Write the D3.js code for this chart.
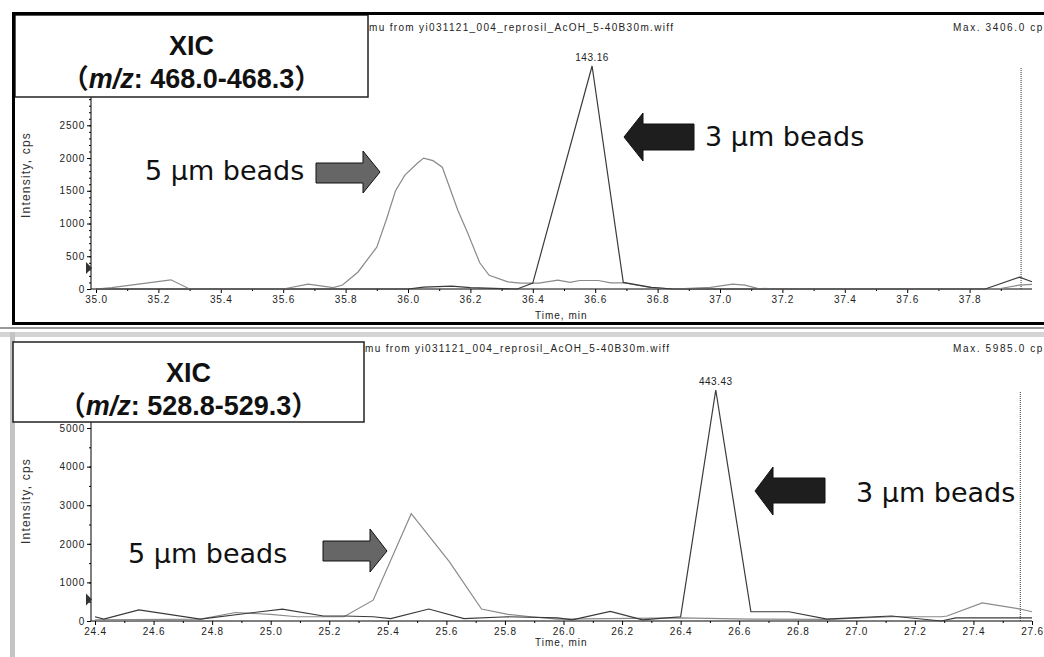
<!DOCTYPE html>
<html>
<head>
<meta charset="utf-8">
<script src="https://cdn.jsdelivr.net/npm/d3@7"></script>
<style>
  body { margin: 0; background: #fff; }
  svg { display: block; }
  .tick text { font-family: "Liberation Sans", Arial, sans-serif; font-size: 10px; fill: #222; letter-spacing: 0.8px; }
  .tick line { stroke: #000; }
</style>
</head>
<body>
<div id="chart"></div>
<script>
// ---- data ----
const topTitle = ["XIC", "468.0-468.3"];
const bottomTitle = ["XIC", "528.8-529.3"];

// top panel (m/z 468.0-468.3), time in min, intensity in cps
const topFive = [
  [35.0, 0], [35.05, 20], [35.24, 140], [35.30, 0], [35.60, 0], [35.68, 75], [35.76, 20],
  [35.79, 60], [35.84, 260], [35.90, 640], [35.93, 1050], [35.96, 1500], [35.99, 1740],
  [36.03, 1920], [36.05, 2000], [36.08, 1960], [36.11, 1860], [36.16, 1200], [36.19, 870],
  [36.23, 400], [36.26, 210], [36.32, 110], [36.36, 90], [36.42, 90], [36.48, 135],
  [36.52, 100], [36.55, 130], [36.61, 130], [36.65, 95], [36.69, 95], [36.78, 20],
  [36.85, 0], [36.97, 25], [37.04, 75], [37.08, 60], [37.12, 10], [37.20, 0],
  [37.89, 0], [37.96, 60], [38.0, 70]
];
const topThree = [
  [35.0, 0], [36.0, 0], [36.05, 30], [36.14, 45], [36.20, 20], [36.35, 0], [36.40, 90],
  [36.59, 3406], [36.69, 100], [36.78, 25], [36.85, 0], [37.85, 0], [37.96, 180], [38.0, 110]
];
const topPeak = { t: 36.59, v: 3406, label: "143.16" };
const topMax = "Max. 3406.0 cps";
const topYTicks = [0, 500, 1000, 1500, 2000, 2500];
const topXTicks = [35.0, 35.2, 35.4, 35.6, 35.8, 36.0, 36.2, 36.4, 36.6, 36.8, 37.0, 37.2, 37.4, 37.6, 37.8];

// bottom panel (m/z 528.8-529.3)
const bottomFive = [
  [24.4, 30], [24.76, 50], [24.88, 220], [25.0, 170], [25.09, 110], [25.25, 110],
  [25.35, 540], [25.48, 2780], [25.61, 1540], [25.72, 310], [25.81, 170], [25.89, 110],
  [25.98, 50], [26.40, 80], [26.64, 50], [26.90, 40], [27.12, 110], [27.29, 110],
  [27.31, 130], [27.43, 470], [27.56, 310], [27.6, 240]
];
const bottomThree = [
  [24.4, 110], [24.43, 50], [24.55, 290], [24.76, 50], [25.04, 310], [25.18, 130],
  [25.25, 130], [25.35, 110], [25.41, 60], [25.54, 310], [25.66, 60], [25.81, 110],
  [25.98, 80], [26.03, 30], [26.16, 250], [26.27, 30], [26.32, 60], [26.40, 110],
  [26.52, 5985], [26.64, 240], [26.77, 240], [26.90, 50], [26.95, 70], [27.12, 130],
  [27.29, 0], [27.34, 80], [27.6, 80]
];
const bottomPeak = { t: 26.52, v: 5985, label: "443.43" };
const bottomMax = "Max. 5985.0 cps";
const bottomYTicks = [0, 1000, 2000, 3000, 4000, 5000];
const bottomXTicks = [24.4, 24.6, 24.8, 25.0, 25.2, 25.4, 25.6, 25.8, 26.0, 26.2, 26.4, 26.6, 26.8, 27.0, 27.2, 27.4, 27.6];

const fileName = "mu from yi031121_004_reprosil_AcOH_5-40B30m.wiff";

const width = 1044, height = 657;
const svg = d3.select("#chart").append("svg")
  .attr("width", width).attr("height", height);

// window chrome between the panels
svg.append("rect").attr("x", 0).attr("y", 327).attr("width", width).attr("height", 2).attr("fill", "#999");
svg.append("rect").attr("x", 0).attr("y", 332).attr("width", width).attr("height", 5).attr("fill", "#d4d4d4");
svg.append("rect").attr("x", 10).attr("y", 332).attr("width", 5).attr("height", 325).attr("fill", "#c4c4c4");

function drawPanel(cfg) {
  const g = svg.append("g");
  const x = d3.scaleLinear().domain(cfg.xDomain).range([cfg.x0, 1032]);
  const y = d3.scaleLinear().domain([0, cfg.yMax]).range([cfg.base, cfg.top]);

  // x axis
  const xa = g.append("g").attr("transform", `translate(0,${cfg.base})`)
    .call(d3.axisBottom(x).tickValues(cfg.xTicks).tickFormat(d3.format(".1f")).tickSize(4).tickPadding(3));
  xa.select(".domain").remove();
  const minorX = cfg.xTicks.map(d => +(d + 0.1).toFixed(1)).filter(d => d < cfg.xDomain[1]);
  g.append("g").attr("transform", `translate(0,${cfg.base})`)
    .call(d3.axisBottom(x).tickValues(minorX).tickFormat("").tickSize(2))
    .select(".domain").remove();
  g.append("line").attr("x1", 91).attr("x2", 1032).attr("y1", cfg.base).attr("y2", cfg.base)
    .attr("stroke", "#000");

  // y axis
  const ya = g.append("g").attr("transform", `translate(91,0)`)
    .call(d3.axisLeft(y).tickValues(cfg.yTicks).tickFormat(d3.format("d")).tickSize(4).tickPadding(2));
  ya.select(".domain").remove();
  g.append("g").attr("transform", `translate(91,0)`)
    .call(d3.axisLeft(y).tickValues(d3.range(0, cfg.yMax, cfg.yMinor)).tickFormat("").tickSize(2))
    .select(".domain").remove();
  g.append("line").attr("x1", 91).attr("x2", 91).attr("y1", cfg.base).attr("y2", cfg.top - 30)
    .attr("stroke", "#000");

  // small marker on the y axis
  const my = y(cfg.marker);
  g.append("path").attr("d", `M86,${my - 6}L92,${my}L86,${my + 6}Z`).attr("fill", "#333");

  // dotted cursor line
  g.append("line").attr("x1", x(cfg.cursor)).attr("x2", x(cfg.cursor))
    .attr("y1", cfg.top + 2).attr("y2", cfg.base)
    .attr("stroke", "#333").attr("stroke-dasharray", "1,1");

  // traces
  const line = d3.line().x(d => x(d[0])).y(d => y(d[1]));
  g.append("path").datum(cfg.five).attr("d", line)
    .attr("fill", "none").attr("stroke", "#8a8a8a").attr("stroke-width", 1.2);
  g.append("path").datum(cfg.three).attr("d", line)
    .attr("fill", "none").attr("stroke", "#3a3a3a").attr("stroke-width", 1.2);

  // peak label
  g.append("text").attr("x", x(cfg.peak.t)).attr("y", y(cfg.peak.v) - 5)
    .attr("text-anchor", "middle")
    .style("font-family", "Liberation Sans, Arial, sans-serif").style("font-size", "10px")
    .style("letter-spacing", "0.5px").attr("fill", "#222")
    .text(cfg.peak.label);

  // axis titles
  g.append("text").attr("transform", `translate(${cfg.yTitle[0]},${cfg.yTitle[1]}) rotate(-90)`)
    .attr("text-anchor", "middle").attr("dy", "0.35em")
    .style("font-family", "Liberation Sans, Arial, sans-serif").style("font-size", "12px")
    .style("letter-spacing", "1.2px").attr("fill", "#333")
    .text("Intensity, cps");
  g.append("text").attr("x", 535).attr("y", cfg.xTitleY)
    .style("font-family", "Liberation Sans, Arial, sans-serif").style("font-size", "10px")
    .style("letter-spacing", "1px").attr("fill", "#222")
    .text("Time, min");

  // header texts
  g.append("text").attr("x", cfg.box[0] + cfg.box[2] + 1).attr("y", cfg.headY)
    .attr("textLength", 304).attr("lengthAdjust", "spacing")
    .style("font-family", "Liberation Sans, Arial, sans-serif").style("font-size", "10px")
    .attr("fill", "#222").text(fileName);
  g.append("text").attr("x", 953).attr("y", cfg.headY)
    .attr("textLength", 96).attr("lengthAdjust", "spacing")
    .style("font-family", "Liberation Sans, Arial, sans-serif").style("font-size", "10px")
    .attr("fill", "#222").text(cfg.maxText);

  // annotations
  const ann = "DejaVu Sans, Verdana, sans-serif";
  cfg.labels.forEach(l => {
    g.append("text").attr("x", l.x).attr("y", l.y)
      .style("font-family", ann).style("font-size", "27px").attr("fill", "#111")
      .text(l.text);
  });
  cfg.arrows.forEach(a => {
    const d = `M${a.x0},${a.y0}H${a.xh}V${a.h0}L${a.tip},${a.yc}L${a.xh},${a.h1}V${a.y1}H${a.x0}Z`;
    g.append("path").attr("d", d).attr("fill", a.fill).attr("stroke", "#111").attr("stroke-width", 1);
  });

  // legend box
  const [bx, by, bw, bh] = cfg.box;
  g.append("rect").attr("x", bx).attr("y", by).attr("width", bw).attr("height", bh)
    .attr("fill", "#fff").attr("stroke", "#222").attr("stroke-width", 1.5);
  const tf = "Liberation Sans, Arial, Noto Sans CJK SC, sans-serif";
  g.append("text").attr("x", bx + bw / 2).attr("y", by + 40).attr("text-anchor", "middle")
    .style("font-family", tf).style("font-size", "27px").style("font-weight", "bold").attr("fill", "#111")
    .text(cfg.title[0]);
  const t2 = g.append("text").attr("x", bx + bw / 2).attr("y", by + 73).attr("text-anchor", "middle")
    .style("font-family", tf).style("font-size", "27px").style("font-weight", "bold").attr("fill", "#111");
  t2.append("tspan").text("（");
  t2.append("tspan").style("font-style", "italic").text("m/z");
  t2.append("tspan").text(": " + cfg.title[1]);
  t2.append("tspan").text("）");
}

drawPanel({
  xDomain: [35.0, 38.0], x0: 96, base: 289, top: 66, yMax: 3406, yMinor: 100,
  xTicks: topXTicks, yTicks: topYTicks, five: topFive, three: topThree, peak: topPeak,
  marker: 320, cursor: 37.965, yTitle: [26, 175], xTitleY: 319, headY: 31,
  maxText: topMax, title: topTitle, box: [15, 15, 353, 82],
  labels: [{ x: 145, y: 180, text: "5 μm beads" }, { x: 705, y: 146, text: "3 μm beads" }],
  arrows: [
    { x0: 316, xh: 363, tip: 380, y0: 163, y1: 183, h0: 151, h1: 193, yc: 172, fill: "#666" },
    { x0: 694, xh: 643, tip: 624, y0: 124, y1: 150, h0: 113, h1: 161, yc: 137, fill: "#1e1e1e" }
  ]
});

drawPanel({
  xDomain: [24.4, 27.6], x0: 95, base: 621, top: 390, yMax: 5985, yMinor: 500,
  xTicks: bottomXTicks, yTicks: bottomYTicks, five: bottomFive, three: bottomThree, peak: bottomPeak,
  marker: 560, cursor: 27.56, yTitle: [26, 501], xTitleY: 646, headY: 352,
  maxText: bottomMax, title: bottomTitle, box: [13, 342, 351, 80],
  labels: [{ x: 128, y: 563, text: "5 μm beads" }, { x: 856, y: 502, text: "3 μm beads" }],
  arrows: [
    { x0: 323, xh: 370, tip: 387, y0: 541, y1: 561, h0: 529, h1: 572, yc: 551, fill: "#666" },
    { x0: 825, xh: 773, tip: 755, y0: 478, y1: 503, h0: 467, h1: 515, yc: 491, fill: "#1e1e1e" }
  ]
});

// top panel frame
svg.append("rect").attr("x", 13.5).attr("y", 13.5).attr("width", 1040).attr("height", 310)
  .attr("fill", "none").attr("stroke", "#000").attr("stroke-width", 3);
</script>
</body>
</html>
